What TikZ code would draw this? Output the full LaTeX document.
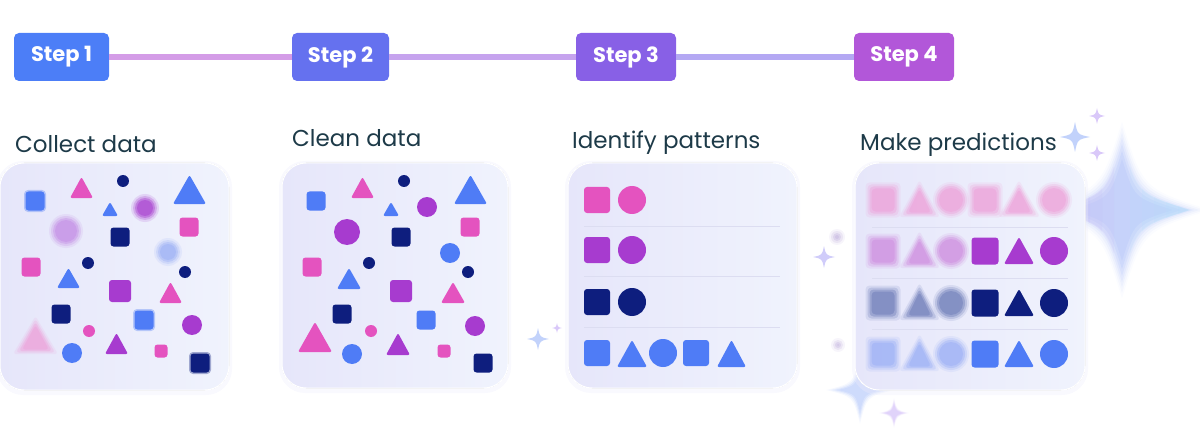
\documentclass[tikz,border=0pt]{standalone}
\usepackage{fontspec}
\setmainfont{Poppins}
\definecolor{cpink}{HTML}{E453BF}
\definecolor{cpurple}{HTML}{A73BCF}
\definecolor{cnavy}{HTML}{0E1E7E}
\definecolor{cblue}{HTML}{4F7CF6}
\definecolor{lpink}{HTML}{EDA2DA}
\definecolor{lpurple}{HTML}{CF8EE0}
\definecolor{lnavy}{HTML}{6E7DB9}
\definecolor{lblue}{HTML}{9CB0F6}
\definecolor{llav}{HTML}{C48EE6}
\definecolor{ctitle}{HTML}{1D3A48}
\definecolor{st1}{HTML}{4C7EF7}
\definecolor{st2}{HTML}{6571EF}
\definecolor{st3}{HTML}{8860E6}
\definecolor{st4}{HTML}{B257D9}
\definecolor{lnA}{HTML}{D49CE7}
\definecolor{lnB}{HTML}{C6A3EE}
\definecolor{lnC}{HTML}{B4A8F3}
\definecolor{panL}{HTML}{E6E6FA}
\definecolor{panR}{HTML}{F0F3FD}
\definecolor{sepc}{HTML}{DCDDF1}
\definecolor{spBlue}{HTML}{C2D2FB}
\definecolor{spLav}{HTML}{D9C8F9}
\definecolor{bigL}{HTML}{C6BFF7}
\definecolor{bigM}{HTML}{BDCBF9}
\definecolor{bigR}{HTML}{B6DDFA}
\tikzset{
  stepbox/.style={rounded corners=5pt, text=white, minimum height=48pt,
    font=\bfseries\fontsize{21}{21}\selectfont, inner sep=0pt},
  title/.style={anchor=base west, inner sep=0pt, text=ctitle,
    font=\fontsize{23}{23}\selectfont},
  conn/.style={line width=6pt},
  sepline/.style={sepc, line width=0.8pt}
}
% solid shapes
\newcommand\Sq[4]{\fill[#4,rounded corners=3pt] ({#1-#3/2},{#2-#3/2}) rectangle ++(#3,#3);}
\newcommand\Tri[5]{\fill[#5,rounded corners=2pt] (#1,#4) -- ({(#1+#2)/2},#3) -- (#2,#4) -- cycle;}
\newcommand\Dot[4]{\fill[#4] (#1,#2) circle[radius=#3];}
% blurred shapes
\newcommand\BSq[4]{\foreach \g/\op in {8/0.15,4/0.25,0/0.4,-4/0.5}{\fill[#4,opacity=\op,rounded corners=4pt] ({#1-(#3+\g)/2},{#2-(#3+\g)/2}) rectangle ++({#3+\g},{#3+\g});}}
\newcommand\BTri[5]{\foreach \g/\op in {6/0.15,3/0.25,0/0.4,-3/0.5}{\fill[#5,opacity=\op,rounded corners=3pt] ({#1-(\g)},{#4+(\g)/2}) -- ({(#1+#2)/2},{#3-(\g)}) -- ({#2+(\g)},{#4+(\g)/2}) -- cycle;}}
\newcommand\BDot[4]{\foreach \g/\op in {8/0.15,4/0.25,0/0.4,-4/0.5}{\fill[#4,opacity=\op] (#1,#2) circle[radius={#3+(\g)/2}];}}
% mildly soft square
\newcommand\MSq[4]{\fill[#4,opacity=0.35,rounded corners=4pt] ({#1-(#3+3)/2},{#2-(#3+3)/2}) rectangle ++({#3+3},{#3+3});\Sq{#1}{#2}{#3}{#4}}
% sparkle: x y r color k
\newcommand\Spark[5]{\fill[#4] (#1,{#2-#3}) .. controls ({#1+#5*#3},{#2-#5*#3}) .. ({#1+#3},#2) .. controls ({#1+#5*#3},{#2+#5*#3}) .. (#1,{#2+#3}) .. controls ({#1-#5*#3},{#2+#5*#3}) .. ({#1-#3},#2) .. controls ({#1-#5*#3},{#2-#5*#3}) .. (#1,{#2-#3}) -- cycle;}
\newcommand\BSpark[4]{\foreach \s/\op in {1.25/0.15,1.1/0.25,0.95/0.4,0.8/0.5}{\Spark{#1}{#2}{#3*\s}{#4,opacity=\op}{0.2}}}
% panel
\newcommand\Panel[4]{%
  \fill[panL!70!white,opacity=0.35,rounded corners=26pt] ({#1-3},{#2-2}) rectangle ({#3+3},{#4+5});
  \fill[left color=panL,right color=panR,rounded corners=24pt] (#1,#2) rectangle (#3,#4);
  \draw[white,line width=1pt,rounded corners=24pt] (#1,#2) rectangle (#3,#4);}
\begin{document}
\begin{tikzpicture}[x=1pt,y=-1pt]
\useasboundingbox (0,0) rectangle (1200,441);
% ---- big blurred sparkle (behind panel 4)
\foreach \s/\op in {1.3/0.06,1.22/0.1,1.14/0.14,1.06/0.2,0.97/0.28,0.87/0.38,0.75/0.5}{
  \Spark{1122}{210}{68*\s}{bigM,opacity=\op}{0.24}}
\foreach \xa in {1130,1142,1154,1166,1178}{
  \begin{scope}
    \clip (\xa,100) rectangle (1200,320);
    \Spark{1122}{210}{68}{bigR,opacity=0.18}{0.24}
  \end{scope}}
\foreach \xa in {1114,1102,1090}{
  \begin{scope}
    \clip (1040,100) rectangle (\xa,320);
    \Spark{1122}{210}{68}{bigL,opacity=0.2}{0.24}
  \end{scope}}
% ---- small sparkles
\Spark{1075}{137}{15}{spBlue}{0.17}
\Spark{1097}{116}{8}{spLav}{0.17}
\Spark{1097}{153}{8}{spLav}{0.17}
\Spark{538}{339}{11}{spBlue}{0.17}
\Spark{557}{328}{5}{spLav}{0.17}
\Spark{824}{257}{11}{spLav!60!spBlue}{0.17}
\BDot{837}{237}{4}{spLav!80!gray}
\BDot{838}{345}{3}{spLav!80!gray}
\BSpark{860}{390}{27}{spBlue}
\BSpark{894}{413}{12}{spLav}
% ---- step badges and connectors
\node[stepbox, fill=st1, minimum width=95pt]  (s1) at (61.5,57)  {Step 1};
\node[stepbox, fill=st2, minimum width=97pt]  (s2) at (340.5,57) {Step 2};
\node[stepbox, fill=st3, minimum width=100pt] (s3) at (626,57)   {Step 3};
\node[stepbox, fill=st4, minimum width=100pt] (s4) at (904,57)   {Step 4};
\draw[conn, lnA] (s1.east) -- (s2.west);
\draw[conn, lnB] (s2.east) -- (s3.west);
\draw[conn, lnC] (s3.east) -- (s4.west);
% ---- titles
\node[title] (t1) at (15,153)  {Collect data};
\node[title] (t2) at (292,147) {Clean data};
\node[title] (t3) at (572,149) {Identify patterns};
\node[title] (t4) at (860,150) {Make predictions};
% ---- panels
\Panel{0}{163}{229}{390}
\Panel{282}{163}{508}{388}
\Panel{568}{163}{797}{388}
\Panel{855}{163}{1085}{390}
% ---- panel 1 : collect data (blurred items)
\begin{scope}[shift={(-281,0)}]
\MSq{316}{201}{19}{cblue}
\Tri{351}{374}{177}{198}{cpink}
\Dot{404}{181}{6}{cnavy}
\Tri{383}{399}{202}{216}{cblue}
\BDot{426}{208}{10}{cpurple}
\Tri{454}{487}{175}{204}{cblue}
\Sq{470}{227}{19}{cpink}
\BDot{347}{231}{13}{llav}
\Sq{401}{237}{19}{cnavy}
\BDot{449}{252}{10}{lblue}
\Sq{312}{267}{19}{cpink}
\Dot{369}{263}{6}{cnavy}
\Tri{338}{361}{268}{288}{cblue}
\Dot{466}{272}{6}{cnavy}
\Sq{401}{291}{22}{cpurple}
\Tri{440}{463}{282}{303}{cpink}
\Sq{342}{314}{19}{cnavy}
\MSq{425}{320}{19}{cblue}
\Dot{473}{325}{10}{cpurple}
\BTri{300}{333}{322}{351}{lpink}
\Dot{370}{331}{6}{cpink}
\Tri{386}{409}{333}{354}{cpurple}
\Dot{353}{353}{10}{cblue}
\Sq{442}{351}{13}{cpink}
\MSq{481}{363}{19}{cnavy}
\end{scope}
% ---- panel 2 : clean data
\Sq{316}{201}{19}{cblue}
\Tri{351}{374}{177}{198}{cpink}
\Dot{404}{181}{6}{cnavy}
\Tri{383}{399}{202}{216}{cblue}
\Dot{427}{207}{10}{cpurple}
\Tri{454}{487}{175}{204}{cblue}
\Sq{470}{227}{19}{cpink}
\Dot{347}{232}{13}{cpurple}
\Sq{401}{237}{19}{cnavy}
\Dot{450}{253}{10}{cblue}
\Sq{312}{267}{19}{cpink}
\Dot{369}{263}{6}{cnavy}
\Tri{337}{361}{268}{289}{cblue}
\Dot{468}{272}{6}{cnavy}
\Sq{401}{291}{22}{cpurple}
\Tri{441}{465}{282}{303}{cpink}
\Sq{342}{314}{19}{cnavy}
\Sq{426}{320}{19}{cblue}
\Dot{475}{326}{10}{cpurple}
\Tri{298}{332}{322}{352}{cpink}
\Dot{371}{331}{6}{cpink}
\Tri{386}{410}{333}{355}{cpurple}
\Dot{352}{354}{10}{cblue}
\Sq{444}{351}{13}{cpink}
\Sq{483}{363}{19}{cnavy}
% ---- panel 3 : identify patterns
\foreach \y/\c in {200/cpink,250/cpurple,302/cnavy}{
  \Sq{597}{\y}{26}{\c}
  \Dot{632}{\y}{14}{\c}
}
\Sq{597}{353}{26}{cblue}
\Tri{617}{647}{340}{367}{cblue}
\Dot{663}{353}{14}{cblue}
\Sq{696}{353}{26}{cblue}
\Tri{717}{746}{340}{367}{cblue}
\foreach \y in {226,276,327}{\draw[sepline] (584,\y) -- (780,\y);}
% ---- panel 4 : make predictions
\BSq{883}{200}{27}{lpink}
\BTri{905}{934}{186}{214}{lpink}
\BDot{951}{200}{14}{lpink}
\BSq{985}{200}{27}{lpink}
\BTri{1004}{1034}{186}{214}{lpink}
\BDot{1054}{200}{14}{lpink}
\foreach \y/\L/\D in {251/lpurple/cpurple,303/lnavy/cnavy,354/lblue/cblue}{
  \BSq{883}{\y}{27}{\L}
  \BTri{905}{934}{\y-14}{\y+14}{\L}
  \BDot{951}{\y}{14}{\L}
  \Sq{985}{\y}{27}{\D}
  \Tri{1004}{1034}{\y-14}{\y+13}{\D}
  \Dot{1054}{\y}{14}{\D}
}
\foreach \y in {227,278,329}{\draw[sepline] (872,\y) -- (1068,\y);}
\end{tikzpicture}
\end{document}
